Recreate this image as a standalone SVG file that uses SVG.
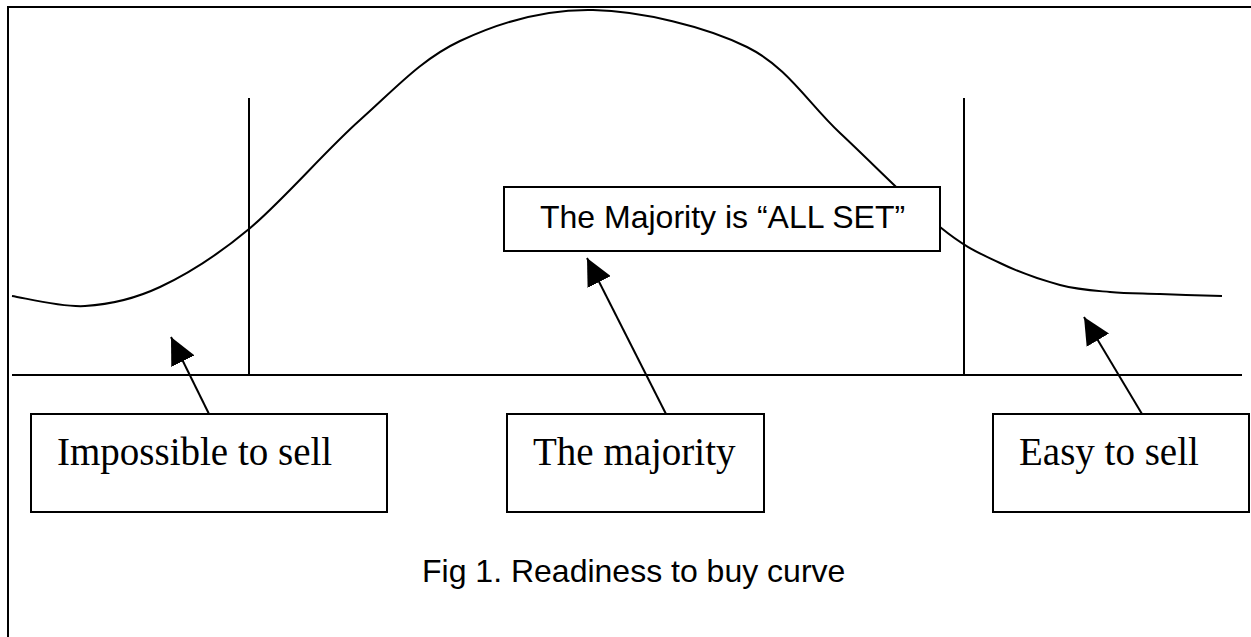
<svg xmlns="http://www.w3.org/2000/svg" width="1251" height="637" viewBox="0 0 1251 637">
<style>
.ln{fill:none;stroke:#000;stroke-width:2}
.box{fill:#fff;stroke:#000;stroke-width:2}
.tm{font-family:"Liberation Serif","Times New Roman",serif;font-size:39px;fill:#000}
.ar{font-family:"Liberation Sans",Arial,sans-serif;font-size:32px;fill:#000}
</style>
<defs>
<marker id="ah" markerUnits="userSpaceOnUse" markerWidth="28" markerHeight="26" refX="27" refY="13" orient="auto" viewBox="0 0 28 26">
<path d="M0,0 L27,13 L0,26 z" fill="#000"/>
</marker>
</defs>
<rect width="1251" height="637" fill="#fff"/>
<g id="frame">
<path class="ln" d="M8,660 L8,7 L1260,7" stroke="#222"/>
</g>
<g id="chart">
<path class="ln" d="M12,296 C24.2,297.7 60.3,307.5 85,306 C109.7,304.5 132.7,299.8 160,287 C187.3,274.2 215.7,256.8 249,229 C282.3,201.2 324.8,151.3 360,120 C395.2,88.7 421.2,59.3 460,41 C498.8,22.7 545.2,9 593,10 C640.8,11 705.8,26.5 747,47 C788.2,67.5 807.8,103 840,133 C872.2,163 913.3,205.3 940,227 C966.7,248.7 980,253.3 1000,263 C1020,272.7 1041.7,280.2 1060,285 C1078.3,289.8 1093.3,290.5 1110,292 C1126.7,293.5 1141.3,293.3 1160,294 C1178.7,294.7 1211.7,295.7 1222,296"/>
<line class="ln" x1="249" y1="98" x2="249" y2="375"/>
<line class="ln" x1="964" y1="98" x2="964" y2="375"/>
<line class="ln" x1="12" y1="375" x2="1242" y2="375"/>
</g>
<g id="node-allset">
<rect class="box" x="504" y="187" width="436" height="64"/>
<text class="ar" x="540" y="228">The Majority is “ALL SET”</text>
</g>
<g id="node-impossible">
<rect class="box" x="31" y="414" width="356" height="98"/>
<text class="tm" x="57" y="465">Impossible to sell</text>
</g>
<g id="node-majority">
<rect class="box" x="507" y="414" width="257" height="98"/>
<text class="tm" x="533" y="465">The majority</text>
</g>
<g id="node-easy">
<rect class="box" x="993" y="414" width="256" height="98"/>
<text class="tm" x="1019" y="465">Easy to sell</text>
</g>
<g id="connectors">
<line class="ln" x1="209" y1="414" x2="171" y2="337" marker-end="url(#ah)"/>
<line class="ln" x1="666" y1="414" x2="587" y2="258" marker-end="url(#ah)"/>
<line class="ln" x1="1142" y1="414" x2="1084" y2="317" marker-end="url(#ah)"/>
</g>
<g id="caption">
<text class="ar" x="422" y="582">Fig 1. Readiness to buy curve</text>
</g>
</svg>
